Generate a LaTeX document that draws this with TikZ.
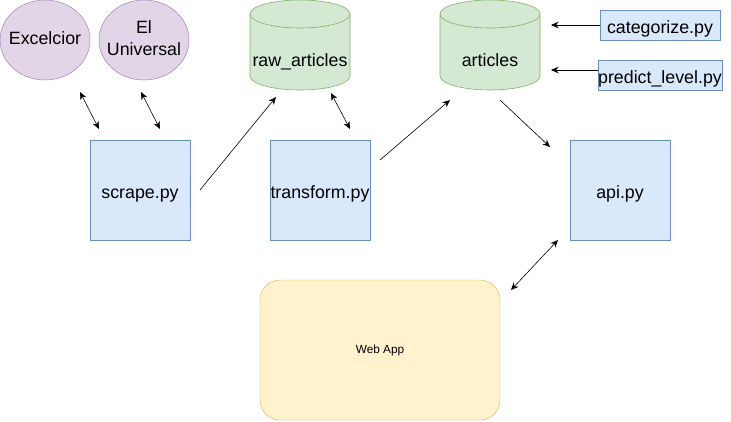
\documentclass[tikz,border=0pt]{standalone}
\usepackage{fontspec}
\setmainfont{Liberation Sans}
\usetikzlibrary{shapes.geometric,arrows.meta}
\definecolor{purpF}{HTML}{E1D5E7}
\definecolor{purpD}{HTML}{9673A6}
\definecolor{greenF}{HTML}{D5E8D4}
\definecolor{greenD}{HTML}{82B366}
\definecolor{blueF}{HTML}{DAE8FC}
\definecolor{blueD}{HTML}{6C8EBF}
\definecolor{yelF}{HTML}{FFF2CC}
\definecolor{yelD}{HTML}{D6B656}
\tikzset{
  big/.style={font=\fontsize{17.8}{22}\selectfont, text height=19pt, text depth=2pt},
  source/.style={ellipse, draw=purpD, fill=purpF, minimum width=90pt, minimum height=80pt, inner sep=0pt},
  srclabel/.style={font=\fontsize{17.8}{22}\selectfont, align=center, inner sep=0pt},
  script/.style={rectangle, draw=blueD, fill=blueF, minimum width=100pt, minimum height=100pt, inner sep=0pt, big},
  small script/.style={rectangle, draw=blueD, fill=blueF, minimum width=120pt, minimum height=30pt, inner sep=0pt, big},
  dbbox/.style={rectangle, minimum width=100pt, minimum height=90pt, inner sep=0pt},
  dblabel/.style={big, inner sep=0pt},
  cylfill/.style={draw=greenD, fill=greenF, line width=0.6pt},
  webapp/.style={rectangle, rounded corners=20pt, draw=yelD, fill=yelF, minimum width=240pt, minimum height=140pt, font=\fontsize{11.8}{14}\selectfont},
  conn/.style={line width=0.6pt, -{Stealth[length=7.5pt,width=6.5pt]}},
  biconn/.style={line width=0.6pt, {Stealth[length=7.5pt,width=6.5pt]}-{Stealth[length=7.5pt,width=6.5pt]}},
}
\newcommand{\drawcyl}[2]{% #1 = left x, #2 = right x (top y=0, bottom y=90)
  \path[cylfill] (#1,14) -- (#1,76) arc (180:0:50 and 14) -- (#2,14) arc (0:-180:50 and 14) -- cycle;
  \draw[greenD, line width=0.6pt] (#1,14) arc (180:0:50 and 14);
}
\begin{document}
\begin{tikzpicture}[x=1pt,y=-1pt]
\useasboundingbox (0,0) rectangle (731,421);
\fill[white] (0,0) rectangle (731,421);

% sources
\node[source] (exc) at (45,40) {};
\node[srclabel] (exclbl) at (45,38.5) {Excelcior};
\node[source] (elu) at (144,40) {};
\node[srclabel] (elulbl) at (144,38.5) {El\\Universal};

% databases
\drawcyl{250}{350}
\node[dbbox] (raw) at (300,45) {};
\node[dblabel] (rawlbl) at (300,58) {raw\_articles};
\drawcyl{440}{540}
\node[dbbox] (art) at (490,45) {};
\node[dblabel] (artlbl) at (490,58) {articles};

% scripts
\node[script] (scrape) at (140,190) {scrape.py};
\node[script] (transform) at (320,190) {transform.py};
\node[script] (api) at (620,190) {api.py};
\node[small script] (cat) at (660,25) {categorize.py};
\node[small script] (pred) at (660,75) {predict\_level.py};

% web app
\node[webapp] (web) at (380,350) {Web App};

% connector end points
\coordinate (c1a) at (80,92);   \coordinate (c1b) at (99,129);
\coordinate (c2a) at (141,92);  \coordinate (c2b) at (160,129);
\coordinate (c3a) at (200,190); \coordinate (c3b) at (276,97);
\coordinate (c4a) at (331,93);  \coordinate (c4b) at (350,129);
\coordinate (c5a) at (380,160); \coordinate (c5b) at (450,100);
\coordinate (c6a) at (500,100); \coordinate (c6b) at (550,147);
\coordinate (c7b) at (551,25);
\coordinate (c8b) at (551,70);
\coordinate (c9a) at (558,240); \coordinate (c9b) at (511,290);

\draw[biconn] (c1a) -- (c1b);
\draw[biconn] (c2a) -- (c2b);
\draw[conn] (c3a) -- (c3b);
\draw[biconn] (c4a) -- (c4b);
\draw[conn] (c5a) -- (c5b);
\draw[conn] (c6a) -- (c6b);
\draw[conn] (cat.west) -- (c7b);
\draw[conn] (pred.west |- c8b) -- (c8b);
\draw[biconn] (c9a) -- (c9b);
\end{tikzpicture}
\end{document}
